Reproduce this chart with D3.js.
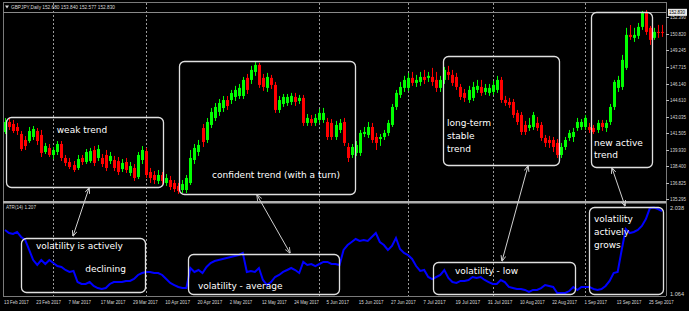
<!DOCTYPE html>
<html><head><meta charset="utf-8">
<script src="https://cdn.jsdelivr.net/npm/d3@7"></script>
<style>html,body{margin:0;padding:0;background:#000;} svg{display:block;}</style>
</head><body><svg id="c" width="689" height="311"></svg>
<script>
// ---------------- DATA ----------------
const titleText = "GBPJPY,Daily  152.680 153.840 152.577 152.830";
const open = [141.59,142.53,142.34,142.06,141.40,140.84,140.74,141.12,141.68,141.31,
139.71,140.09,139.43,139.71,140.46,139.15,138.77,138.49,138.21,139.15,
138.77,138.86,139.90,139.15,139.15,139.43,138.86,138.96,138.86,138.11,
138.77,137.74,138.21,137.36,138.96,139.80,137.83,137.55,136.99,137.55,
136.80,137.08,136.80,136.52,136.14,136.14,136.80,138.96,139.71,141.96,
140.84,142.25,142.90,143.47,143.84,144.59,144.59,144.88,144.97,144.97,
146.67,146.48,147.23,147.89,146.67,145.73,146.67,146.01,143.66,144.22,
144.31,144.41,144.88,144.50,144.79,142.44,142.81,142.44,142.72,142.72,
142.53,142.44,141.12,141.78,142.53,140.18,139.43,139.62,139.62,141.40,
141.31,142.06,141.12,140.93,141.12,141.50,142.25,143.94,145.07,145.73,
145.73,146.67,146.20,146.29,146.76,146.67,146.76,146.48,145.73,146.48,
147.23,146.95,146.76,145.82,145.26,144.60,144.79,145.54,145.82,145.35,
145.26,145.35,145.54,146.48,144.60,144.41,144.41,143.38,143.19,142.25,
141.97,142.06,142.44,142.25,141.03,140.84,140.84,140.56,139.43,140.18,
141.03,141.12,141.97,142.06,142.06,142.06,141.97,141.78,142.44,141.97,
142.53,143.94,145.73,145.82,147.61,150.71,150.43,150.62,151.46,152.78,
151.37,150.43,150.99,150.99];
const close = [142.53,142.06,141.68,141.68,139.99,140.27,141.68,141.87,140.74,139.62,
140.27,139.43,139.90,140.46,139.15,138.68,138.30,138.02,139.05,138.77,
139.71,139.80,138.68,139.99,138.58,138.21,139.34,138.21,137.83,138.68,
138.02,138.39,137.27,139.43,139.90,137.55,137.27,137.08,137.55,136.99,
137.27,136.42,136.23,136.05,136.70,137.27,139.15,140.09,140.37,140.65,
142.53,143.47,143.94,144.31,144.59,144.03,145.25,145.54,145.73,146.48,
145.54,147.42,147.89,146.01,145.82,146.76,146.01,143.66,144.59,144.88,
144.88,144.98,144.41,144.79,142.44,142.91,142.44,142.91,143.38,143.38,
141.12,141.12,142.25,142.44,140.56,139.15,140.18,140.37,141.50,141.59,
142.06,140.84,140.56,141.12,141.50,142.44,143.94,145.26,145.82,146.48,
146.67,146.20,146.48,146.76,146.48,146.86,146.29,145.73,146.48,147.42,
146.95,146.20,145.82,144.88,144.79,145.54,145.82,145.92,145.26,145.73,
145.73,146.01,146.48,144.60,144.32,144.13,143.19,142.53,141.59,141.59,
142.25,143.19,141.97,141.03,140.56,140.56,140.18,139.43,140.18,140.84,
141.50,141.59,142.53,142.53,142.91,141.78,141.59,142.44,142.06,142.44,
143.94,146.29,146.48,148.36,150.71,150.52,150.71,151.46,152.78,150.99,
150.24,150.99,150.90,150.90];
const high = [142.90,142.90,142.72,142.43,141.68,141.21,142.06,142.15,141.96,141.78,
140.56,140.46,140.18,140.74,140.74,139.43,139.15,138.86,139.43,139.43,
139.99,140.09,140.27,140.37,139.52,139.90,139.71,139.34,139.24,139.05,
139.15,138.77,138.58,139.71,140.27,140.09,138.21,137.92,138.02,137.83,
137.64,137.46,137.08,136.80,137.08,137.55,139.90,140.46,140.84,142.34,
142.90,143.84,144.31,144.69,144.97,144.97,145.54,145.92,146.10,146.76,
147.04,147.80,148.17,148.08,147.04,147.14,146.95,146.29,144.97,145.16,
145.16,145.26,145.26,145.07,145.07,143.28,143.19,143.28,143.75,143.85,
142.91,142.81,142.63,142.81,142.91,140.56,140.46,140.74,141.78,142.06,
142.53,142.44,141.50,141.40,141.78,142.72,144.22,145.54,146.29,146.86,
147.14,147.23,146.95,147.23,147.42,147.23,147.61,147.23,146.86,147.70,
147.80,147.42,147.14,146.10,145.63,145.92,146.29,146.48,146.48,146.10,
146.10,146.39,146.86,146.76,144.98,144.79,144.69,143.66,143.47,142.63,
142.91,143.47,143.00,142.53,141.31,141.22,141.12,140.93,140.56,141.12,
141.78,141.97,142.91,142.81,143.19,142.44,142.25,142.72,142.72,142.72,
144.22,146.48,146.86,148.83,151.37,151.64,151.37,151.83,152.96,153.05,
151.55,151.37,151.65,151.65];
const low = [141.40,141.78,141.49,141.31,139.80,139.90,140.56,140.84,140.37,139.24,
139.52,139.24,139.05,139.43,138.86,138.39,138.11,137.83,138.02,138.49,
138.58,138.68,138.39,138.86,138.30,137.92,138.58,137.92,137.55,137.83,
137.74,137.46,136.99,137.17,138.58,137.27,136.80,136.70,136.70,136.52,
136.52,136.14,135.95,135.77,135.86,135.86,136.61,138.58,139.34,140.18,
140.56,141.96,142.62,143.10,143.47,143.66,144.22,144.50,144.69,144.69,
145.16,146.10,146.86,145.73,145.45,145.35,145.63,143.38,143.38,143.94,
144.04,144.13,144.04,144.22,142.16,142.16,142.16,142.16,142.44,142.44,
140.84,140.84,140.84,141.49,140.28,138.77,139.15,139.34,139.34,141.12,
141.03,140.56,139.90,140.28,140.84,141.22,142.06,143.66,144.79,145.35,
145.45,145.92,145.82,145.92,146.10,146.29,145.92,145.35,145.35,146.10,
146.48,145.92,145.54,144.60,144.41,144.32,144.50,145.26,144.98,145.07,
144.98,145.07,145.26,144.32,144.04,143.85,142.91,142.25,141.31,141.31,
141.69,141.78,141.69,140.75,140.18,140.09,139.71,139.15,139.15,139.90,
140.75,140.65,141.69,141.78,141.78,141.50,141.40,141.50,141.69,141.59,
142.25,143.66,145.35,145.54,147.42,150.24,150.05,150.33,151.18,150.71,
149.77,150.24,150.43,150.52];
const atr = [1.783,1.749,1.738,1.761,1.704,1.670,1.557,1.443,1.387,1.443,
1.398,1.443,1.409,1.375,1.364,1.330,1.308,1.319,1.194,1.172,
1.172,1.194,1.149,1.126,1.115,1.126,1.172,1.194,1.194,1.194,
1.206,1.206,1.228,1.274,1.296,1.308,1.308,1.296,1.296,1.274,
1.228,1.183,1.160,1.138,1.126,1.126,1.353,1.308,1.330,1.296,
1.364,1.409,1.432,1.443,1.455,1.466,1.477,1.489,1.500,1.523,
1.308,1.319,1.308,1.353,1.217,1.160,1.194,1.251,1.274,1.308,
1.330,1.353,1.330,1.296,1.421,1.387,1.398,1.375,1.398,1.421,
1.421,1.398,1.398,1.387,1.557,1.613,1.647,1.681,1.659,1.670,
1.659,1.704,1.749,1.647,1.613,1.557,1.602,1.693,1.568,1.523,
1.500,1.455,1.375,1.319,1.330,1.251,1.228,1.251,1.274,1.330,
1.240,1.194,1.183,1.206,1.206,1.217,1.251,1.240,1.251,1.217,
1.194,1.172,1.172,1.217,1.194,1.138,1.126,1.115,1.115,1.104,
1.081,1.104,1.104,1.126,1.160,1.149,1.138,1.070,1.070,1.070,
1.092,1.138,1.104,1.138,1.138,1.138,1.115,1.104,1.115,1.149,
1.206,1.296,1.308,1.557,1.795,1.749,1.761,1.783,1.829,1.908,
2.032,2.038,2.021,1.998];
const dateTickIndex = [0,8,16,24,32,40,48,56,64,72,80,88,96,104,112,120,128,136,144,152,160];
const dateTickLabels = ["13 Feb 2017","23 Feb 2017","7 Mar 2017","17 Mar 2017","29 Mar 2017","10 Apr 2017",
"20 Apr 2017","2 May 2017","12 May 2017","24 May 2017","5 Jun 2017","15 Jun 2017","27 Jun 2017",
"7 Jul 2017","19 Jul 2017","31 Jul 2017","10 Aug 2017","22 Aug 2017","1 Sep 2017","13 Sep 2017","25 Sep 2017"];
const monthSepIndex = [12,35,78,100,121,144];
const priceTicks = [152.390,150.820,149.245,147.715,146.140,144.610,143.035,141.505,139.930,138.400,136.825,135.295];
const bidPrice = 152.830;
const atrTicks = [2.038,1.064];
const atrLabel = "ATR(14) 1.207";

// ---------------- LAYOUT ----------------
const svg = d3.select("#c");
const W = 689, H = 311;
const axisX = 666;
const pBot = 201, aBot = 296;

const x = d3.scaleLinear().domain([0, open.length-1]).range([5, 662]);
const y = d3.scaleLinear().domain([135.295, 152.39]).range([199, 17]);
const ya = d3.scaleLinear().domain([1.064, 2.038]).range([293.5, 207.5]);

svg.append("rect").attr("width",W).attr("height",H).attr("fill","#000");

const gridCol = "#7a7a7a";
svg.append("line").attr("x1",3).attr("x2",axisX).attr("y1",2.5).attr("y2",2.5).attr("stroke",gridCol);
svg.append("line").attr("x1",3.5).attr("x2",3.5).attr("y1",2).attr("y2",aBot).attr("stroke",gridCol);
svg.append("line").attr("x1",axisX+0.5).attr("x2",axisX+0.5).attr("y1",2).attr("y2",aBot).attr("stroke",gridCol);
svg.append("rect").attr("x",3).attr("y",pBot).attr("width",axisX-3).attr("height",2.5).attr("fill","#b0b0b0");
svg.append("line").attr("x1",3).attr("x2",axisX).attr("y1",aBot+0.5).attr("y2",aBot+0.5).attr("stroke",gridCol);

svg.selectAll("line.sep").data(monthSepIndex).join("line")
  .attr("x1",d=>Math.round(x(d))+0.5).attr("x2",d=>Math.round(x(d))+0.5)
  .attr("y1",3).attr("y2",aBot)
  .attr("stroke","#9a9a9a").attr("stroke-width",1).attr("stroke-dasharray","2,2");

svg.append("line").attr("x1",3).attr("x2",axisX).attr("y1",Math.round(y(bidPrice))+0.5).attr("y2",Math.round(y(bidPrice))+0.5).attr("stroke","#8a8a8a");

// candles
const idx = d3.range(open.length);
const cg = svg.append("g");
cg.selectAll("line.wick").data(idx).join("line")
  .attr("x1",i=>Math.round(x(i))+0.5).attr("x2",i=>Math.round(x(i))+0.5)
  .attr("y1",i=>y(high[i])).attr("y2",i=>y(low[i]))
  .attr("stroke",i=>close[i]>=open[i]?"#00ff00":"#ff0000").attr("stroke-width",1);
cg.selectAll("rect.body").data(idx).join("rect")
  .attr("x",i=>Math.round(x(i))-1).attr("width",3)
  .attr("y",i=>y(Math.max(open[i],close[i])))
  .attr("height",i=>Math.max(1,Math.abs(y(open[i])-y(close[i]))))
  .attr("fill",i=>close[i]>=open[i]?"#00ff00":"#ff0000");

// ATR line
svg.append("path").datum(idx)
  .attr("d", d3.line().x(i=>x(i)).y(i=>ya(atr[i])))
  .attr("fill","none").attr("stroke","#0000ff").attr("stroke-width",2);

// axis labels
const axFont = "'Liberation Sans',Arial,sans-serif";
function smallText(sel, xx, yy, str, len, col){
  return sel.append("text").attr("x",xx).attr("y",yy).attr("font-family",axFont).attr("font-size",5.6)
    .attr("fill",col||"#d8d8d8").attr("textLength",len).attr("lengthAdjust","spacingAndGlyphs").text(str);
}
priceTicks.forEach(p=>{
  const yy = Math.round(y(p));
  svg.append("line").attr("x1",axisX).attr("x2",axisX+3).attr("y1",yy+0.5).attr("y2",yy+0.5).attr("stroke","#bbb");
  smallText(svg, axisX+4, yy+2, p.toFixed(3), 16);
});
const by = y(bidPrice);
svg.append("rect").attr("x",axisX+2).attr("y",by-3.5).attr("width",19).attr("height",7).attr("fill","#e8e8e8");
smallText(svg, axisX+3, by+2, bidPrice.toFixed(3), 16, "#000");
atrTicks.forEach(v=>{ smallText(svg, axisX+4, ya(v)+2, v.toFixed(3), 14); });
dateTickIndex.forEach((d,k)=>{
  const s = dateTickLabels[k];
  smallText(svg, x(d)-1, 304, s, s.length*2.25);
});
svg.append("path").attr("d","M5,5.5 L9,5.5 L7,8.5 Z").attr("fill","#d8d8d8");
smallText(svg, 11, 9, titleText, 104);
smallText(svg, 6, 209, atrLabel, 30);

// ---------------- ANNOTATIONS ----------------
const boxCol = "#e0e0e0";
const boxes = [
  {x:6,y:117,w:157,h:70},
  {x:179,y:61,w:176,h:133},
  {x:443,y:56,w:116,h:109},
  {x:591,y:12,w:61,h:155},
  {x:21,y:238,w:124,h:54},
  {x:188,y:254,w:151,h:40},
  {x:433,y:262,w:142,h:32},
  {x:589,y:207,w:74,h:87}
];
svg.selectAll("rect.box").data(boxes).join("rect")
  .attr("x",d=>d.x+0.5).attr("y",d=>d.y+0.5).attr("width",d=>d.w).attr("height",d=>d.h)
  .attr("rx",5).attr("fill","none").attr("stroke",boxCol).attr("stroke-width",1.3);

const noteFont = "'Comic Sans MS','DejaVu Sans',sans-serif";
const notes = [
  {x:82,y:133,t:"weak trend",a:"middle"},
  {x:276,y:178,t:"confident trend (with a turn)",a:"middle"},
  {x:447,y:126,t:"long-term",a:"start"},
  {x:447,y:139,t:"stable",a:"start"},
  {x:447,y:152,t:"trend",a:"start"},
  {x:594,y:146,t:"new active",a:"start"},
  {x:594,y:158,t:"trend",a:"start"},
  {x:36,y:249,t:"volatility is actively",a:"start"},
  {x:126,y:272,t:"declining",a:"end"},
  {x:198,y:289,t:"volatility  -  average",a:"start"},
  {x:455,y:274,t:"volatility  -  low",a:"start"},
  {x:594,y:222,t:"volatility",a:"start"},
  {x:594,y:235,t:"actively",a:"start"},
  {x:594,y:248,t:"grows",a:"start"}
];
svg.selectAll("text.note").data(notes).join("text")
  .attr("x",d=>d.x).attr("y",d=>d.y).attr("text-anchor",d=>d.a)
  .attr("font-family",noteFont).attr("font-size",9).attr("fill","#fff").text(d=>d.t);

const defs = svg.append("defs");
defs.append("marker").attr("id","ah").attr("viewBox","0 0 10 10").attr("refX",9).attr("refY",5)
  .attr("markerWidth",6).attr("markerHeight",6).attr("orient","auto-start-reverse")
  .append("path").attr("d","M0,1 L10,5 L0,9").attr("fill","none").attr("stroke","#d0d0d0").attr("stroke-width",1.5);
const arrows = [
  {x1:89,y1:188,x2:73,y2:236},
  {x1:257,y1:195,x2:290,y2:253},
  {x1:528,y1:166,x2:502,y2:261},
  {x1:612,y1:168,x2:625,y2:206}
];
svg.selectAll("line.arr").data(arrows).join("line")
  .attr("x1",d=>d.x1).attr("y1",d=>d.y1).attr("x2",d=>d.x2).attr("y2",d=>d.y2)
  .attr("stroke","#d0d0d0").attr("stroke-width",1)
  .attr("marker-start","url(#ah)").attr("marker-end","url(#ah)");
</script>
</body></html>
